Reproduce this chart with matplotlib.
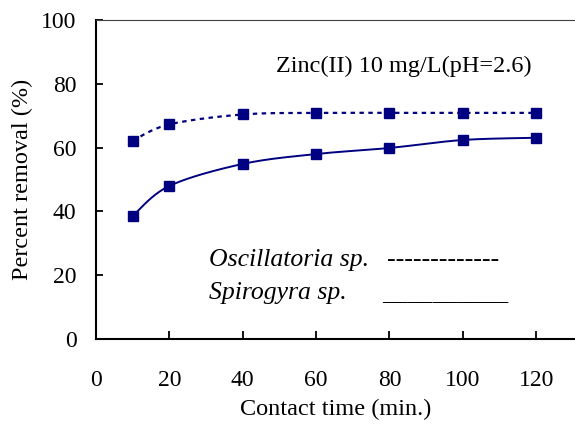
import numpy as np
import matplotlib
matplotlib.use("Agg")
import matplotlib.pyplot as plt

plt.rcParams["font.family"] = ["Liberation Serif", "DejaVu Serif"]

# contact time (min.) and percent removal for each alga
contact_time = [10, 20, 40, 60, 80, 100, 120]
oscillatoria = [62.2, 67.3, 70.4, 70.9, 70.9, 70.9, 70.9]
spirogyra = [38.6, 48.0, 54.9, 58.0, 59.9, 62.4, 63.1]

title_text = "Zinc(II) 10 mg/L(pH=2.6)"
x_ticks = [0, 20, 40, 60, 80, 100, 120]
y_ticks = [0, 20, 40, 60, 80, 100]

NAVY = "#000080"


def _smooth(x, y, n=30):
    # Bezier smoothing through every point, like a spreadsheet "smoothed line"
    x = np.asarray(x, float)
    y = np.asarray(y, float)
    px = np.concatenate(([x[0]], x, [x[-1]]))
    py = np.concatenate(([y[0]], y, [y[-1]]))
    xs, ys = [], []
    t = np.linspace(0, 1, n)
    for i in range(1, len(px) - 2):
        p0 = np.array([px[i], py[i]])
        p3 = np.array([px[i + 1], py[i + 1]])
        p1 = p0 + (np.array([px[i + 1], py[i + 1]]) - np.array([px[i - 1], py[i - 1]])) / 6
        p2 = p3 - (np.array([px[i + 2], py[i + 2]]) - np.array([px[i], py[i]])) / 6
        b = ((1 - t) ** 3)[:, None] * p0 + (3 * (1 - t) ** 2 * t)[:, None] * p1 \
            + (3 * (1 - t) * t ** 2)[:, None] * p2 + (t ** 3)[:, None] * p3
        xs.append(b[:, 0])
        ys.append(b[:, 1])
    return np.concatenate(xs), np.concatenate(ys)


fig = plt.figure(figsize=(5.75, 4.26), dpi=100)
ax = fig.add_axes([0.167, 0.204, 0.833, 0.749])

sx, sy = _smooth(contact_time, oscillatoria)
ax.plot(sx, sy, color=NAVY, lw=1.6, dashes=(2.0, 2.0))
sx, sy = _smooth(contact_time, spirogyra)
ax.plot(sx, sy, color=NAVY, lw=1.4)
for series in (oscillatoria, spirogyra):
    ax.plot(contact_time, series, ls="none", marker="s", ms=7.8,
            color=NAVY, mec=NAVY, zorder=3)

ax.set_xlim(0, 130.6)
ax.set_ylim(0, 100)
ax.set_xticks(x_ticks)
ax.set_yticks(y_ticks)
ax.tick_params(axis="x", direction="in", length=6, width=1.3,
               labelsize=17, pad=22)
ax.tick_params(axis="y", direction="in", length=5, width=1.3,
               labelsize=17, pad=14)

ax.spines["right"].set_visible(False)
ax.spines["top"].set_color("#404040")
ax.spines["top"].set_linewidth(0.8)
ax.spines["left"].set_linewidth(1.5)
ax.spines["bottom"].set_linewidth(1.5)

ax.set_xlabel("Contact time (min.)", fontsize=17.5, labelpad=6)
ax.set_ylabel("Percent removal (%)", fontsize=17.5, labelpad=6)

ax.text(49.2, 85.5, title_text, fontsize=17.5, va="center", ha="left")

# text-style legend
ax.text(30.9, 22.8, "Oscillatoria sp.", fontsize=18.5, style="italic",
        va="baseline", ha="left")
ax.text(79.3, 22.8, "-------------", fontsize=18.5, va="baseline", ha="left")
ax.text(30.9, 12.5, "Spirogyra sp.", fontsize=18.5, style="italic",
        va="baseline", ha="left")
ax.text(78.0, 12.5, "__________", fontsize=18, va="baseline", ha="left")

fig.savefig("out.png", dpi=100)
